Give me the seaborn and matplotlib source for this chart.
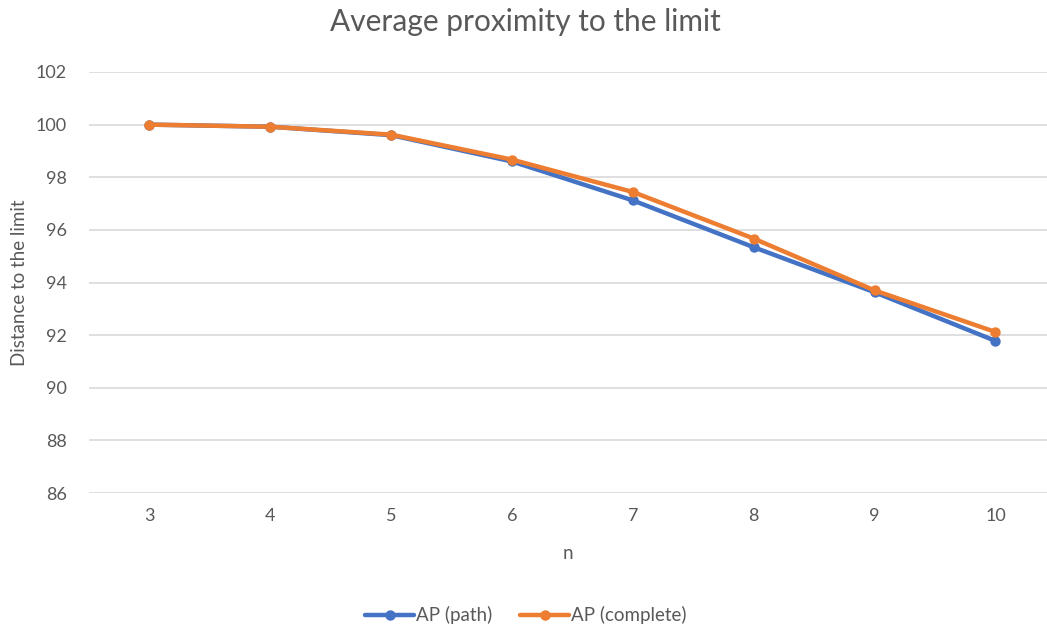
import matplotlib
matplotlib.use("Agg")
import matplotlib.pyplot as plt
import seaborn as sns
import pandas as pd

n_values = [3, 4, 5, 6, 7, 8, 9, 10]
ap_path = [100.0, 99.92, 99.6, 98.6, 97.12, 95.34, 93.63, 91.78]
ap_complete = [100.0, 99.92, 99.62, 98.67, 97.44, 95.67, 93.70, 92.12]
series_names = ["AP (path)", "AP (complete)"]
y_ticks = [86, 88, 90, 92, 94, 96, 98, 100, 102]

df = pd.DataFrame({
    "n": n_values * 2,
    "value": ap_path + ap_complete,
    "series": [series_names[0]] * len(n_values) + [series_names[1]] * len(n_values),
})

sns.set_style("white")
plt.rcParams["font.family"] = ["Lato", "DejaVu Sans"]

text_color = "#595959"
fig = plt.figure(figsize=(10.47, 6.25), dpi=100)
ax = fig.add_axes([89 / 1047, 1 - 493 / 625, 1 - 89 / 1047, (493 - 72) / 625])

palette = {series_names[0]: "#4472C4", series_names[1]: "#ED7D31"}
sns.lineplot(data=df, x="n", y="value", hue="series", palette=palette,
             marker="o", markersize=7.5, markeredgewidth=0, linewidth=3.2,
             ax=ax, legend=True)

ax.set_ylim(86, 102)
ax.set_yticks(y_ticks)
ax.set_xticks(n_values)
ax.set_xlim(2.5, 2.5 + 958 / 120.86)
ax.yaxis.grid(True, color="#D9D9D9", linewidth=1.2)
ax.xaxis.grid(False)
for s in ax.spines.values():
    s.set_visible(False)
ax.tick_params(axis="both", length=0, labelsize=13, colors=text_color)
ax.tick_params(axis="y", pad=16)
ax.tick_params(axis="x", pad=11)

ax.set_xlabel("n", fontsize=13.5, color=text_color, labelpad=15)
ax.set_ylabel("Distance to the limit", fontsize=13.5, color=text_color, va="center")
ax.yaxis.set_label_coords((20 - 89) / 958, 0.5)

fig.suptitle("Average proximity to the limit", x=525 / 1047, y=1 - 22 / 625,
             va="center", fontsize=21.5, color=text_color)

handles, labels = ax.get_legend_handles_labels()
ax.legend(handles, labels, loc="center", bbox_to_anchor=(0.456, -0.29),
          ncol=2, frameon=False, fontsize=13.5, labelcolor=text_color,
          handlelength=2.6, handletextpad=0.1, columnspacing=1.5)

fig.savefig("out.png", dpi=100, facecolor="white")
